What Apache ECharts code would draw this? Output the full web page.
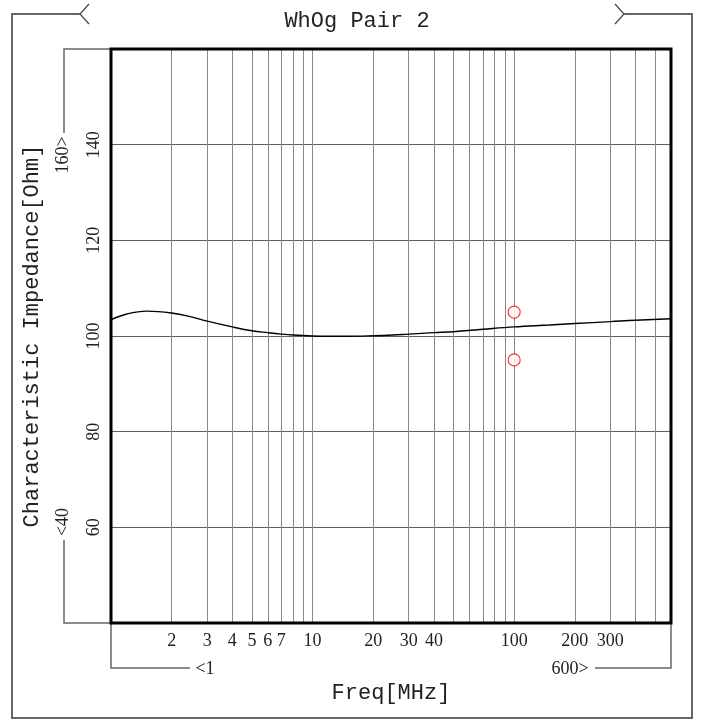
<!DOCTYPE html>
<html><head><meta charset="utf-8">
<script src="https://cdn.jsdelivr.net/npm/echarts/dist/echarts.min.js"></script>
<style>html,body{margin:0;padding:0;background:#fff}#c{width:701px;height:720px}</style>
</head><body><div id="c"></div>
<script>
const freq = [1,1.2,1.5,2,2.5,3,4,5,6,7,8,10,12,15,20,25,30,40,50,70,100,150,200,300,400,600];
const impedance = [103.4,104.6,105.2,104.8,104.0,103.1,101.9,101.1,100.7,100.4,100.2,100.0,99.95,99.95,100.05,100.2,100.4,100.7,100.9,101.4,101.9,102.3,102.6,103.0,103.3,103.6];
const limitFreq = [100,100];
const limitValues = [105,95];
const gridFreqs = [2,3,4,5,6,7,8,9,10,20,30,40,50,60,70,80,90,100,200,300,400,500];
const labeledFreqs = [2,3,4,5,6,7,10,20,30,40,100,200,300];
const xMin = 1, xMax = 600, yMin = 40, yMax = 160, yStep = 20;
const titleText = 'WhOg Pair 2';
const xName = 'Freq[MHz]';
const yName = 'Characteristic Impedance[Ohm]';

const serifFont = 'Liberation Serif';
const monoFont = 'Liberation Mono';
const gray = '#666';

const chart = echarts.init(document.getElementById('c'));
const G = {left:111, top:49, width:560, height:574};

const curveData = freq.map((f,i)=>[f, impedance[i]]);
const limitData = limitFreq.map((f,i)=>[f, limitValues[i]]);

const gridLines = gridFreqs.map(f => ({
  xAxis: f,
  label: {show: labeledFreqs.indexOf(f) >= 0, formatter: String(f)}
}));

function poly(pts,w,c){return {type:'polyline',shape:{points:pts},style:{stroke:c||gray,lineWidth:w||1,fill:null},z:50,silent:true};}
function txt(t,x,y,rot,size){return {type:'text',x:x,y:y,rotation:rot||0,style:{text:t,x:0,y:0,align:'center',verticalAlign:'middle',font:(size||18)+'px "'+serifFont+'"',fill:'#222'},z:50,silent:true};}

chart.setOption({
  animation:false,
  backgroundColor:'#fff',
  title:{text:titleText,left:352,textAlign:'center',top:5,textStyle:{fontFamily:monoFont,fontSize:22,fontWeight:'normal',color:'#222'}},
  grid:{left:G.left,top:G.top,width:G.width,height:G.height,show:false},
  xAxis:{type:'log',logBase:10,min:xMin,max:xMax,
    name:xName,nameLocation:'middle',nameGap:59,nameTextStyle:{fontFamily:monoFont,fontSize:22,color:'#222'},
    axisLine:{show:false},axisTick:{show:false},axisLabel:{show:false},splitLine:{show:false}},
  yAxis:{type:'value',min:yMin,max:yMax,interval:yStep,
    name:yName,nameLocation:'middle',nameGap:68,nameRotate:90,nameTextStyle:{fontFamily:monoFont,fontSize:22,color:'#222'},
    axisLine:{show:false},axisTick:{show:false},
    axisLabel:{rotate:90,margin:8,showMinLabel:false,showMaxLabel:false,fontFamily:serifFont,fontSize:18,color:'#222'},
    splitLine:{show:true,lineStyle:{color:'#606060',width:1}}},
  series:[
    {type:'line',data:curveData,smooth:0.4,showSymbol:false,z:3,
     lineStyle:{color:'#000',width:1.4},
     markLine:{silent:true,z:1,symbol:['none','none'],animation:false,
       lineStyle:{color:'#8a8a8a',width:1,type:'solid'},
       label:{position:'start',distance:9,fontFamily:serifFont,fontSize:18,color:'#222'},
       emphasis:{disabled:true},
       data:gridLines}},
    {type:'scatter',data:limitData,symbol:'circle',symbolSize:12,z:6,
     itemStyle:{color:'#fff',borderColor:'#ff0000',borderWidth:1.2}}
  ],
  graphic:[
    {type:'rect',shape:{x:G.left,y:G.top,width:G.width,height:G.height},style:{stroke:'#000',lineWidth:3,fill:null},z:60,silent:true},
    poly([[80,14],[12,14],[12,718],[692,718],[692,14],[624,14]],2,'#666'),
    poly([[89,4],[80,14],[89,24]],1.2,'#444'),
    poly([[615,4],[624,14],[615,24]],1.2,'#444'),
    poly([[111,49],[64,49],[64,133]],1.5,gray),
    poly([[64,540],[64,623],[111,623]],1.5,gray),
    txt('160>',63,155,Math.PI/2,18),
    txt('<40',63,522,Math.PI/2,18),
    poly([[111,623],[111,668],[190,668]],1.5,gray),
    poly([[595,668],[671,668],[671,623]],1.5,gray),
    txt('<1',205,669,0,18),
    txt('600>',570,669,0,18)
  ]
});
</script></body></html>
